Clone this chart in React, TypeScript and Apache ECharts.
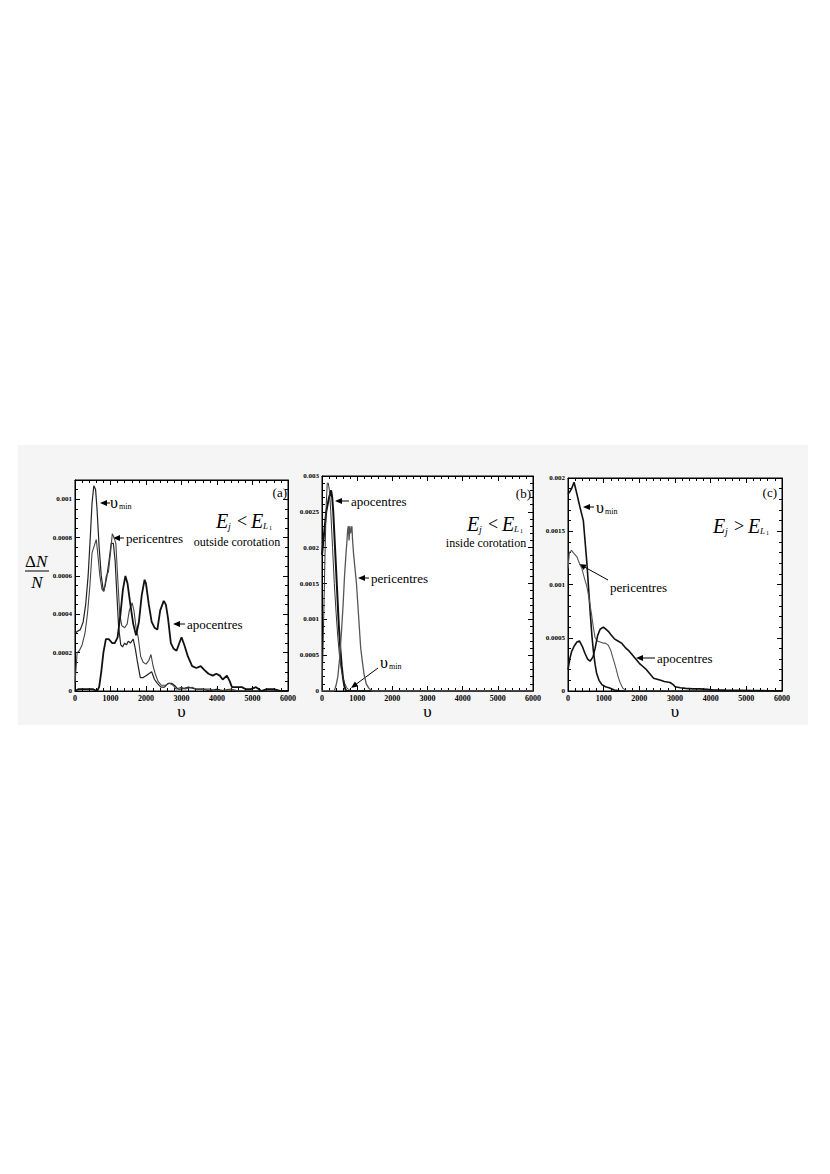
import React, { useEffect, useRef } from "react";
import * as echarts from "echarts";

// ---- data (υ, ΔN/N) ----
const xTicks = [0, 1000, 2000, 3000, 4000, 5000, 6000];

const aUmin = [[0,0.0003],[60,0.00031],[150,0.00032],[230,0.00036],[300,0.00045],[370,0.0006],[430,0.0008],[480,0.00098],[530,0.00107],[580,0.00105],[620,0.00095],[680,0.00075],[740,0.0006],[800,0.00052],[850,0.00055],[900,0.0006],[960,0.00068],[1020,0.00077],[1080,0.00077],[1130,0.00068],[1180,0.0005],[1230,0.00033],[1290,0.00024],[1340,0.00023],[1400,0.00025],[1450,0.00024],[1500,0.00026],[1560,0.00025],[1640,0.00027],[1700,0.00022],[1760,0.00015],[1840,0.00007],[1920,0.00007],[2000,0.00008],[2080,0.00009],[2160,0.0001],[2240,0.00006],[2320,0.00004],[2420,0.00002],[2520,0.00002],[2620,0.00004],[2720,0.00004],[2800,0.00003],[2900,0.00001],[3000,0.00001],[3200,0.00002],[3400,0.00001],[3600,0.00001],[3800,0],[4000,0.00001],[4200,0],[4500,0],[5000,0],[6000,0]];
const aPeri = [[0,0.00004],[30,0.00012],[60,0.0002],[120,0.00021],[200,0.00024],[280,0.0003],[350,0.0004],[420,0.00055],[480,0.00072],[530,0.00075],[600,0.00079],[650,0.0007],[700,0.0006],[760,0.00053],[820,0.00052],[880,0.0006],[940,0.00062],[1000,0.00072],[1050,0.00082],[1100,0.0008],[1150,0.00077],[1200,0.0006],[1260,0.0004],[1320,0.00034],[1400,0.00033],[1470,0.00035],[1530,0.00042],[1610,0.00046],[1660,0.00042],[1720,0.00033],[1780,0.00028],[1850,0.00018],[1920,0.00015],[2000,0.00014],[2080,0.00016],[2140,0.00019],[2200,0.00013],[2260,0.00009],[2340,0.00005],[2430,0.00003],[2550,0.00003],[2660,0.00004],[2760,0.00003],[2850,0.00001],[3000,0.00002],[3100,0.00001],[3300,0.00002],[3400,0.00001],[3600,0.00001],[3800,0.00001],[4000,0],[4400,0.00001],[4600,0],[5000,0],[6000,0]];
const aApo = [[0,0],[100,0.00001],[300,0.00001],[500,0.00001],[620,0],[680,0.00002],[740,0.0001],[800,0.0002],[870,0.00027],[950,0.00027],[1050,0.00025],[1120,0.00025],[1200,0.00028],[1280,0.0004],[1350,0.00053],[1420,0.0006],[1480,0.00056],[1560,0.00045],[1640,0.00035],[1720,0.00029],[1800,0.00036],[1880,0.0005],[1960,0.00058],[2000,0.00056],[2080,0.00045],[2160,0.00036],[2240,0.00033],[2320,0.00032],[2400,0.00042],[2500,0.00047],[2560,0.00045],[2620,0.00038],[2700,0.00025],[2780,0.00022],[2860,0.00021],[2940,0.00025],[3000,0.00028],[3080,0.00024],[3180,0.00018],[3300,0.00013],[3420,0.00012],[3540,0.00013],[3640,0.00011],[3760,0.00009],[3880,0.00008],[3980,0.00009],[4080,0.00008],[4160,0.00006],[4280,0.00008],[4360,0.00005],[4420,0.00002],[4560,0.00002],[4700,0.00002],[4800,0.00001],[4950,0.00001],[5100,0.00002],[5250,0],[5400,0.00001],[5600,0.00001],[5800,0],[6000,0]];

const bApo = [[0,0.0019],[40,0.0021],[80,0.0023],[120,0.0025],[160,0.0026],[200,0.0027],[230,0.00275],[260,0.0028],[290,0.0027],[320,0.0025],[360,0.0021],[400,0.0017],[440,0.0013],[480,0.0009],[520,0.0006],[560,0.00035],[600,0.00017],[640,0.00006],[680,0.00001],[720,0],[6000,0]];
const bUmin = [[0,0.00002],[30,0.0006],[60,0.0013],[90,0.002],[120,0.0026],[150,0.0029],[180,0.0029],[210,0.0028],[250,0.0025],[300,0.002],[350,0.0015],[400,0.0011],[450,0.00075],[500,0.00048],[550,0.0003],[600,0.00018],[650,0.0001],[700,0.00005],[760,0.00002],[820,0],[6000,0]];
const bPeri = [[0,0],[350,0],[400,0.00008],[450,0.0002],[500,0.00045],[550,0.0008],[600,0.0012],[640,0.0016],[680,0.0019],[710,0.0021],[730,0.00225],[750,0.0023],[770,0.0021],[790,0.0023],[810,0.0022],[830,0.0022],[850,0.0023],[870,0.0021],[900,0.0019],[940,0.0017],[980,0.0015],[1020,0.0012],[1060,0.0009],[1100,0.0006],[1150,0.0004],[1200,0.00022],[1260,0.0001],[1330,0.00004],[1400,0.00001],[1450,0],[6000,0]];

const cUmin = [[0,0.00185],[50,0.00187],[100,0.0019],[170,0.00196],[250,0.00185],[340,0.00172],[430,0.0016],[480,0.0014],[530,0.0012],[580,0.00095],[620,0.00075],[670,0.00052],[710,0.00038],[760,0.00025],[800,0.00017],[870,0.0001],[950,0.00006],[1050,0.00004],[1150,0.00003],[1300,0.00001],[1500,0],[6000,0]];
const cPeri = [[0,0.00115],[40,0.0013],[100,0.00132],[170,0.00129],[250,0.00126],[320,0.0012],[390,0.00115],[460,0.00106],[530,0.00098],[600,0.00085],[660,0.00072],[710,0.0006],[760,0.0005],[820,0.00047],[900,0.00046],[980,0.00045],[1050,0.00045],[1130,0.00043],[1200,0.00038],[1270,0.0003],[1340,0.00022],[1400,0.00014],[1460,0.00008],[1530,0.00003],[1600,0.00001],[1700,0],[6000,0]];
const cApo = [[0,0.0002],[50,0.0003],[100,0.00037],[170,0.00042],[250,0.00046],[320,0.00047],[400,0.00042],[480,0.00035],[550,0.0003],[620,0.00028],[700,0.00032],[760,0.0004],[830,0.00052],[900,0.00058],[990,0.0006],[1060,0.00058],[1130,0.00056],[1200,0.00053],[1300,0.00049],[1400,0.00047],[1500,0.00045],[1600,0.00041],[1700,0.00038],[1800,0.00034],[1900,0.0003],[2000,0.00026],[2100,0.00023],[2200,0.0002],[2300,0.00016],[2400,0.00012],[2500,0.00011],[2600,0.0001],[2700,0.00009],[2860,0.00008],[2950,0.00006],[3000,0.00004],[3150,0.00003],[3300,0.000025],[3500,0.00002],[3700,0.00002],[3900,0.000015],[4100,0.00001],[4400,0.000008],[4800,0.000006],[5200,0.000004],[5600,0.000003],[6000,0.000002]];

const yMax = [0.0011, 0.003, 0.002];
const yInterval = [0.0002, 0.0005, 0.0005];
const yMinorSplit = [4, 5, 5];
const panelLabels = ["(a)", "(b)", "(c)"];

const SERIF = "Liberation Serif";

function fmtY(v: number) {
  if (v === 0) return "0";
  return String(+v.toFixed(5));
}
function fmtX(v: number) {
  return String(Math.round(v));
}

function txt(x: number, y: number, text: string, size: number, o: any = {}) {
  return {
    type: "text", x, y, silent: true,
    style: {
      text, fontSize: size, fontFamily: SERIF, fill: "#000",
      align: o.align || "left", verticalAlign: o.va || "middle",
      fontStyle: o.italic ? "italic" : "normal", fontWeight: o.bold ? "bold" : "normal",
    },
  };
}

function arrow(tx: number, ty: number, fx: number, fy: number, head = 7, hw = 3) {
  const dx = fx - tx, dy = fy - ty;
  const L = Math.hypot(dx, dy);
  const ux = dx / L, uy = dy / L;
  const bx = tx + ux * head, by = ty + uy * head;
  const px = -uy * hw, py = ux * hw;
  return [
    { type: "polygon", silent: true, shape: { points: [[tx, ty], [bx + px, by + py], [bx - px, by - py]] }, style: { fill: "#000" } },
    { type: "line", silent: true, shape: { x1: bx - ux, y1: by - uy, x2: fx, y2: fy }, style: { stroke: "#000", lineWidth: 1 } },
  ];
}

function umin(x: number, y: number) {
  return [txt(x, y, "υ", 16), txt(x + 9, y + 4, "min", 8)];
}

function eqn(x: number, y: number, op: string) {
  return [
    txt(x, y, "E", 20, { italic: true }),
    txt(x + 12, y + 5, "j", 10, { italic: true }),
    txt(x + 21, y, op, 18),
    txt(x + 35, y, "E", 20, { italic: true }),
    txt(x + 47, y + 5, "L", 9, { italic: true }),
    txt(x + 53, y + 7, "1", 6),
  ];
}

export default function App() {
  const ref = useRef<HTMLDivElement>(null);
  useEffect(() => {
    if (!ref.current) return;
    const chart = echarts.init(ref.current, undefined, { renderer: "svg" });
    const grids = [
      { left: 75, top: 480, width: 213, height: 211 },
      { left: 322, top: 476, width: 211, height: 215 },
      { left: 568, top: 478, width: 214, height: 213 },
    ];
    const tickStyle = { color: "#000", width: 1 };
    const xAxis: any[] = [];
    const yAxis: any[] = [];
    grids.forEach((g, i) => {
      const common = {
        gridIndex: i, type: "value", min: xTicks[0], max: xTicks[xTicks.length - 1], interval: 1000,
        axisLine: { show: true, onZero: false, lineStyle: tickStyle },
        axisTick: { show: true, inside: true, length: 5, lineStyle: tickStyle },
        minorTick: { show: true, splitNumber: 5, length: 3, lineStyle: tickStyle },
        splitLine: { show: false },
      };
      xAxis.push({
        ...common, position: "bottom",
        axisLabel: { fontSize: 8, fontWeight: "bold", fontFamily: SERIF, color: "#000", margin: 3, formatter: fmtX },
        name: "υ", nameLocation: "middle", nameGap: 11,
        nameTextStyle: { fontSize: 17, fontFamily: SERIF, color: "#000" },
      });
      xAxis.push({ ...common, position: "top", axisLabel: { show: false } });
      const ycommon = {
        gridIndex: i, type: "value", min: 0, max: yMax[i], interval: yInterval[i],
        axisLine: { show: true, onZero: false, lineStyle: tickStyle },
        axisTick: { show: true, inside: true, length: 5, lineStyle: tickStyle },
        minorTick: { show: true, splitNumber: yMinorSplit[i], length: 3, lineStyle: tickStyle },
        splitLine: { show: false },
      };
      yAxis.push({
        ...ycommon, position: "left",
        axisLabel: { fontSize: 7, fontWeight: "bold", fontFamily: SERIF, color: "#000", margin: 3, formatter: fmtY, showMaxLabel: i === 0 ? false : true },
      });
      yAxis.push({ ...ycommon, position: "right", axisLabel: { show: false } });
    });

    const ser = (gi: number, data: number[][], color: string, width: number) => ({
      type: "line", xAxisIndex: gi * 2, yAxisIndex: gi * 2, data, symbol: "none",
      lineStyle: { color, width }, silent: true, z: 3,
    });

    const graphic: any[] = [
      { type: "rect", z: -10, silent: true, shape: { x: 18, y: 445, width: 790, height: 280 }, style: { fill: "#f5f5f5" } },
      // ΔN / N
      txt(36, 561, "Δ", 17, { align: "right" }),
      txt(36, 561, "N", 17, { italic: true }),
      { type: "line", silent: true, shape: { x1: 25, y1: 571, x2: 49, y2: 571 }, style: { stroke: "#000", lineWidth: 1 } },
      txt(37, 582, "N", 17, { align: "center", italic: true }),
      // panel labels
      txt(287, 492, panelLabels[0], 13, { align: "right" }),
      txt(531, 493, panelLabels[1], 13, { align: "right" }),
      txt(777, 492, panelLabels[2], 13, { align: "right" }),
      // panel a
      ...arrow(100, 503, 110, 503), ...umin(110, 502),
      ...arrow(113, 538, 124, 538), txt(126, 538, "pericentres", 13),
      ...arrow(173, 624, 185, 624), txt(187, 624, "apocentres", 13),
      ...eqn(216, 521, "<"), txt(237, 542, "outside corotation", 12, { align: "center" }),
      // panel b
      ...arrow(335, 501, 349, 501), txt(351, 501, "apocentres", 13),
      ...eqn(467, 524, "<"), txt(486, 543, "inside corotation", 12, { align: "center" }),
      ...arrow(358, 578, 369, 578), txt(371, 578, "pericentres", 13),
      ...umin(380, 662), ...arrow(351, 688, 378, 668),
      // panel c
      ...arrow(583, 507, 594, 507), ...umin(596, 507),
      ...eqn(713, 526, ">"),
      ...arrow(579, 564, 608, 580), txt(610, 587, "pericentres", 13),
      ...arrow(636, 658, 655, 658), txt(657, 658, "apocentres", 13),
    ];

    chart.setOption({
      animation: false,
      backgroundColor: "#ffffff",
      grid: grids.map((g) => ({ ...g, show: true, backgroundColor: "#ffffff", borderColor: "#000", borderWidth: 1, containLabel: false })),
      xAxis, yAxis,
      series: [
        ser(0, aUmin, "#222", 1.2),
        ser(0, aPeri, "#444", 1.1),
        ser(0, aApo, "#111", 1.8),
        ser(1, bApo, "#111", 2),
        ser(1, bUmin, "#333", 1),
        ser(1, bPeri, "#555", 1.3),
        ser(2, cUmin, "#111", 1.6),
        ser(2, cPeri, "#555", 1.1),
        ser(2, cApo, "#111", 1.6),
      ],
      graphic,
    });
    return () => chart.dispose();
  }, []);
  return <div ref={ref} style={{ position: "absolute", left: 0, top: 0, width: 830, height: 1174, background: "#fff" }} />;
}
